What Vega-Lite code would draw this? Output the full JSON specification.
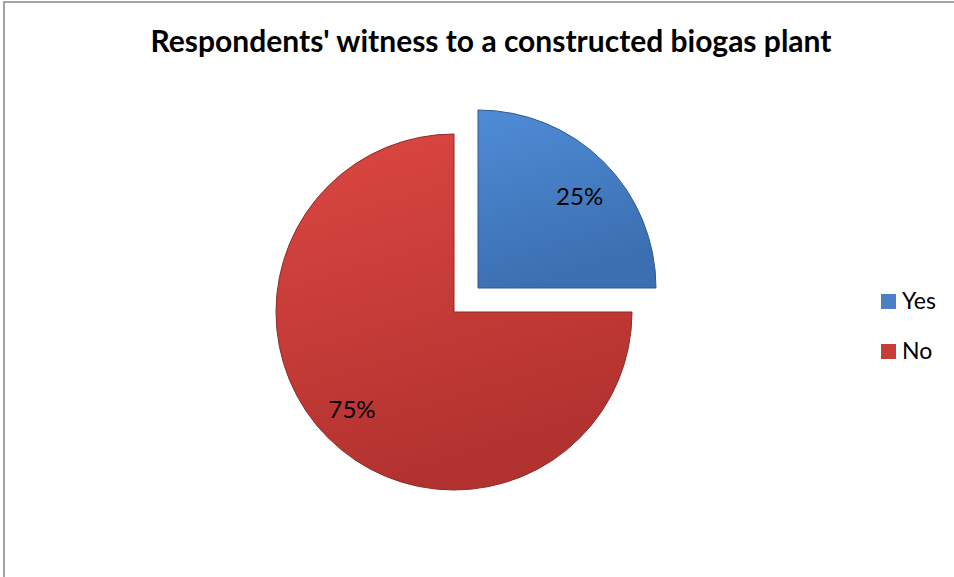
{
  "$schema": "https://vega.github.io/schema/vega-lite/v6.json",
  "width": 1000,
  "height": 640,
  "autosize": "none",
  "padding": {"left": 4, "top": 2, "right": 0, "bottom": 0},
  "background": "white",
  "view": {"stroke": "#868686", "strokeWidth": 1.5, "fill": null},
  "config": {"view": {"stroke": "#868686", "strokeWidth": 1.5}, "font": "Lato"},
  "title": {"text": "Respondents' witness to a constructed biogas plant", "font": "Lato", "fontSize": 30, "fontWeight": "bold", "color": "#000000", "offset": -56, "dx": -13},
  "data": {"values": [{"answer": "Yes", "share": 25, "label": "25%"}, {"answer": "No", "share": 75, "label": "75%"}]},
  "encoding": {
    "theta": {"field": "share", "type": "quantitative", "stack": true},
    "order": {"field": "share", "type": "quantitative", "sort": "ascending"}
  },
  "layer": [
    {
      "mark": {"type": "arc", "radius": 178, "xOffset": -50, "yOffset": -10, "stroke": "#8e2a27", "strokeWidth": 1,
        "fill": {"gradient": "linear", "x1": 0, "y1": 0, "x2": 0.3, "y2": 1, "stops": [{"offset": 0, "color": "#dc4742"}, {"offset": 1, "color": "#b2322f"}]}},
      "encoding": {
        "opacity": {"condition": {"test": "datum.answer === 'Yes'", "value": 0}, "value": 1}
      }
    },
    {
      "mark": {"type": "arc", "radius": 178, "xOffset": -26, "yOffset": -34, "stroke": "#2c5a8f", "strokeWidth": 1,
        "fill": {"gradient": "linear", "x1": 0, "y1": 0, "x2": 0.3, "y2": 1, "stops": [{"offset": 0, "color": "#4f8cd6"}, {"offset": 1, "color": "#3b6fb1"}]}},
      "encoding": {
        "opacity": {"condition": {"test": "datum.answer === 'No'", "value": 0}, "value": 1}
      }
    },
    {
      "mark": {"type": "arc", "radius": 178, "opacity": 0},
      "encoding": {
        "color": {"field": "answer", "type": "nominal", "sort": ["Yes", "No"],
          "scale": {"domain": ["Yes", "No"], "range": ["#4a80c4", "#c93d39"]},
          "legend": {"title": null, "orient": "none", "legendX": 873, "legendY": 288, "symbolType": "square", "symbolSize": 225, "symbolStrokeWidth": 0, "labelFontSize": 23, "labelFont": "Lato", "labelColor": "#000000", "rowPadding": 26, "padding": 0, "symbolOpacity": 1, "labelOffset": 2}}
      }
    },
    {
      "mark": {"type": "text", "radius": 140, "xOffset": -53, "yOffset": -10, "fontSize": 24, "font": "Lato", "color": "#000000"},
      "encoding": {
        "text": {"field": "label", "type": "nominal"},
        "opacity": {"condition": {"test": "datum.answer === 'Yes'", "value": 0}, "value": 1}
      }
    },
    {
      "mark": {"type": "text", "radius": 138, "xOffset": -22, "yOffset": -26, "fontSize": 24, "font": "Lato", "color": "#000000"},
      "encoding": {
        "text": {"field": "label", "type": "nominal"},
        "opacity": {"condition": {"test": "datum.answer === 'No'", "value": 0}, "value": 1}
      }
    }
  ]
}
